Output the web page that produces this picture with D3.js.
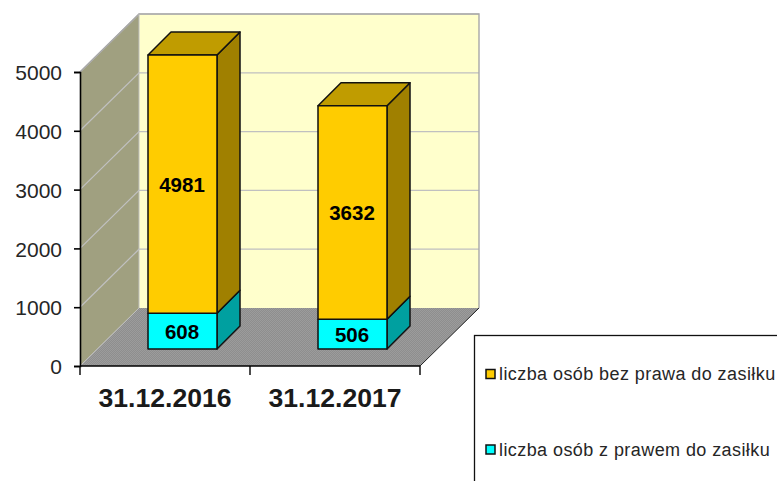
<!DOCTYPE html>
<html><head><meta charset="utf-8">
<script src="https://cdnjs.cloudflare.com/ajax/libs/d3/7.8.5/d3.min.js"></script>
<style>html,body{margin:0;padding:0;background:#fff;overflow:hidden}svg{display:block}text{font-family:"Liberation Sans",Arial,sans-serif}</style>
</head><body><svg id="c" width="777" height="481"></svg>
<script>
const categories = ["31.12.2016", "31.12.2017"];
const withBenefit = [608, 506];
const withoutBenefit = [4981, 3632];
const yTicks = [0, 1000, 2000, 3000, 4000, 5000];
const legendLabels = ["liczba osób bez prawa do zasiłku", "liczba osób z prawem do zasiłku"];

const svg = d3.select("#c");
const W = {x0: 80, x1: 420, y0: 366, y1: 72, dx: 59, dy: 58};   // 3D box
const gap = 17, depth = 23, barW = 69;

const x = d3.scaleBand().domain(categories).range([W.x0, W.x1]).paddingInner(0).paddingOuter(0);
const yAxisScale = d3.scaleLinear().domain([0, 5000]).range([W.y0, W.y1]);
// Bars stand further back on the floor; values above the axis maximum are clipped
const yBar = d3.scaleLinear().domain([0, 5000]).range([W.y0 - gap, W.y1 - gap]).clamp(true);

const defs = svg.append("defs");
const pat = defs.append("pattern").attr("id", "dither").attr("width", 2).attr("height", 2).attr("patternUnits", "userSpaceOnUse");
pat.append("rect").attr("width", 2).attr("height", 2).attr("fill", "#8e8e8e");
pat.append("rect").attr("width", 1).attr("height", 1).attr("fill", "#9c9c9c");
pat.append("rect").attr("x", 1).attr("y", 1).attr("width", 1).attr("height", 1).attr("fill", "#9c9c9c");

const poly = (pts, fill, stroke, sw) => svg.append("polygon").attr("points", pts.map(p => p.join(",")).join(" "))
  .attr("fill", fill).attr("stroke", stroke || "none").attr("stroke-width", sw || 0).attr("stroke-linejoin", "round");

// back wall
poly([[W.x0 + W.dx, W.y1 - W.dy], [W.x1 + W.dx, W.y1 - W.dy], [W.x1 + W.dx, W.y0 - W.dy], [W.x0 + W.dx, W.y0 - W.dy]], "#ffffcc");
// side wall
poly([[W.x0, W.y1], [W.x0 + W.dx, W.y1 - W.dy], [W.x0 + W.dx, W.y0 - W.dy], [W.x0, W.y0]], "#a0a080");
// floor
poly([[W.x0, W.y0], [W.x1, W.y0], [W.x1 + W.dx, W.y0 - W.dy], [W.x0 + W.dx, W.y0 - W.dy]], "url(#dither)");

// grid
yTicks.forEach(t => {
  const yy = yAxisScale(t);
  if (t > 0) {
    svg.append("path").attr("d", `M${W.x0},${yy}L${W.x0 + W.dx},${yy - W.dy}L${W.x1 + W.dx},${yy - W.dy}`)
      .attr("fill", "none").attr("stroke", "#c0c0c0").attr("stroke-width", 1.2);
  }
});
svg.append("path").attr("d", `M${W.x0},${W.y1}L${W.x0 + W.dx},${W.y1 - W.dy}L${W.x1 + W.dx},${W.y1 - W.dy}L${W.x1 + W.dx},${W.y0 - W.dy}`)
  .attr("fill", "none").attr("stroke", "#a8a8a8").attr("stroke-width", 1.4);
svg.append("path").attr("d", `M${W.x0 + W.dx},${W.y1 - W.dy}V${W.y0 - W.dy}L${W.x0},${W.y0}`)
  .attr("fill", "none").attr("stroke", "#c0c0c0").attr("stroke-width", 1);
// floor edge at right
svg.append("path").attr("d", `M${W.x1},${W.y0}L${W.x1 + W.dx},${W.y0 - W.dy}`).attr("fill", "none").attr("stroke", "#222").attr("stroke-width", 1);

// axes
const axL = svg.append("g").attr("transform", `translate(${W.x0},0)`)
  .call(d3.axisLeft(yAxisScale).tickValues(yTicks).tickSize(6).tickPadding(12).tickFormat(d3.format("d")));
axL.selectAll("text").attr("font-size", 21).attr("fill", "#262626").attr("font-family", '"Liberation Sans",Arial,sans-serif').attr("dy", "0.37em");
axL.selectAll("line,path").attr("stroke", "#000").attr("stroke-width", 1.6);

const axB = svg.append("g").attr("transform", `translate(0,${W.y0})`)
  .call(d3.axisBottom(x).tickSize(0).tickPadding(22));
axB.select("path").remove();
axB.selectAll("text").attr("font-size", 26.6).attr("font-weight", "bold").attr("fill", "#1a1a1a").attr("font-family", '"Liberation Sans",Arial,sans-serif');
svg.append("line").attr("x1", W.x0).attr("x2", W.x1).attr("y1", W.y0).attr("y2", W.y0).attr("stroke", "#000").attr("stroke-width", 1.6);
[W.x0, ...categories.map(c => x(c) + x.bandwidth())].forEach(px => {
  svg.append("line").attr("x1", px).attr("x2", px).attr("y1", W.y0).attr("y2", W.y0 + 9).attr("stroke", "#000").attr("stroke-width", 1.4);
});

// bars
function seg(xl, v0, v1, front, side, top, label) {
  const yb = yBar(v0), yt = yBar(v1), xr = xl + barW, S = "#111", sw = 1.5;
  poly([[xr, yb], [xr + depth, yb - depth], [xr + depth, yt - depth], [xr, yt]], side, S, sw);
  if (top) poly([[xl, yt], [xl + depth, yt - depth], [xr + depth, yt - depth], [xr, yt]], top, S, sw);
  poly([[xl, yb], [xr, yb], [xr, yt], [xl, yt]], front, S, sw);
  svg.append("text").attr("x", xl + barW / 2 - 0.5).attr("y", (yb + yt) / 2 + 7.5).attr("text-anchor", "middle")
    .attr("font-size", 20.5).attr("font-weight", "bold").attr("fill", "#000").text(label);
}
categories.forEach((c, i) => {
  const xl = x(c) + x.bandwidth() / 2 + gap + 0.5 - barW / 2;
  seg(xl, 0, withBenefit[i], "#00ffff", "#00a0a0", null, withBenefit[i]);
  seg(xl, withBenefit[i], withBenefit[i] + withoutBenefit[i], "#ffcc00", "#a08000", "#c09c00", withoutBenefit[i]);
});

// legend
svg.append("rect").attr("x", 474.5).attr("y", 335.5).attr("width", 340).attr("height", 200)
  .attr("fill", "#fff").attr("stroke", "#111").attr("stroke-width", 1.3);
const lgY = [374, 449.5], lgCol = ["#ffcc00", "#00ffff"];
legendLabels.forEach((t, i) => {
  svg.append("rect").attr("x", 486).attr("y", lgY[i] - 4.5).attr("width", 9).attr("height", 9)
    .attr("fill", lgCol[i]).attr("stroke", "#111").attr("stroke-width", 1.5);
  svg.append("text").attr("x", 499).attr("y", lgY[i] + 6).attr("font-size", 18).attr("letter-spacing", 0.42).attr("fill", "#262626").text(t);
});
</script></body></html>
